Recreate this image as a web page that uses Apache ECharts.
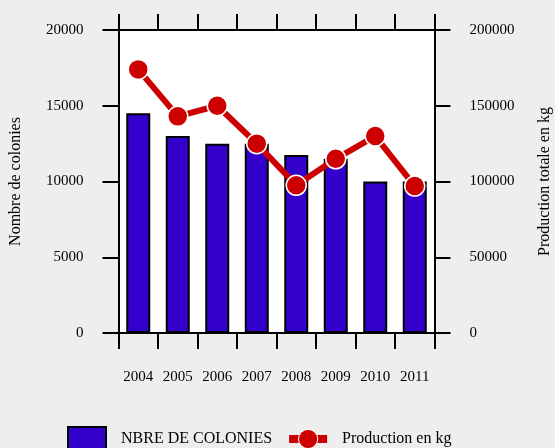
<!DOCTYPE html>
<html>
<head>
<meta charset="utf-8">
<script src="https://cdn.jsdelivr.net/npm/echarts@6/dist/echarts.min.js"></script>
<style>
html,body{margin:0;padding:0;background:#eeeeee;}
#chart{width:555px;height:448px;}
</style>
</head>
<body>
<div id="chart"></div>
<script>
const years = ['2004','2005','2006','2007','2008','2009','2010','2011'];
const colonies = [14500, 13000, 12500, 12500, 11750, 11500, 10000, 10000];
const production = [174000, 143000, 150000, 125000, 97500, 115000, 130000, 97000];
const leftTicks = {min: 0, max: 20000, interval: 5000};
const rightTicks = {min: 0, max: 200000, interval: 50000};

const FONT = '"Liberation Serif", "Times New Roman", serif';
const axisLine = {show: true, onZero: false, lineStyle: {color: '#000', width: 2}};
const axisTick = {show: true, inside: false, length: 16, interval: 0, lineStyle: {color: '#000', width: 2}};

const chart = echarts.init(document.getElementById('chart'), null, {renderer: 'canvas'});
chart.setOption({
  backgroundColor: '#eeeeee',
  animation: false,
  grid: {left: 118.5, right: 120.5, top: 30, bottom: 115, show: true, backgroundColor: '#ffffff', borderWidth: 0,
         containLabel: false, outerBoundsMode: 'none'},
  legend: {
    left: 67, top: 426, padding: 0, itemWidth: 38, itemHeight: 24, itemGap: 13,
    textStyle: {fontFamily: FONT, fontSize: 16, color: '#000', padding: [0,0,4,10]},
    data: [
      {name: 'NBRE DE COLONIES', icon: 'rect', itemStyle: {color: '#3300cc', borderColor: '#000', borderWidth: 2}},
      {name: 'Production en kg', lineStyle: {width: 8}, itemStyle: {color: '#cc0000', borderColor: '#ffffff', borderWidth: 1}}
    ]
  },
  xAxis: [
    {type: 'category', data: years, position: 'bottom', boundaryGap: true,
     axisLine: axisLine, axisTick: axisTick,
     axisLabel: {interval: 0, fontFamily: FONT, fontSize: 15, color: '#000', margin: 37}},
    {type: 'category', data: years, position: 'top', boundaryGap: true,
     axisLine: axisLine, axisTick: axisTick, axisLabel: {show: false}}
  ],
  yAxis: [
    {type: 'value', position: 'left', min: leftTicks.min, max: leftTicks.max, interval: leftTicks.interval,
     name: 'Nombre de colonies', nameLocation: 'middle', nameGap: 95,
     nameTextStyle: {fontFamily: FONT, fontSize: 16, color: '#000'},
     axisLine: axisLine, axisTick: axisTick, splitLine: {show: false},
     axisLabel: {fontFamily: FONT, fontSize: 15, color: '#000', margin: 35, formatter: v => String(v)}},
    {type: 'value', position: 'right', min: rightTicks.min, max: rightTicks.max, interval: rightTicks.interval,
     name: 'Production totale en kg', nameLocation: 'middle', nameGap: 102,
     nameTextStyle: {fontFamily: FONT, fontSize: 16, color: '#000'},
     axisLine: axisLine, axisTick: axisTick, splitLine: {show: false},
     axisLabel: {fontFamily: FONT, fontSize: 15, color: '#000', margin: 35, formatter: v => String(v)}}
  ],
  series: [
    {name: 'NBRE DE COLONIES', type: 'bar', xAxisIndex: 0, yAxisIndex: 0, data: colonies,
     barWidth: 24, itemStyle: {color: '#3300cc', borderColor: '#000', borderWidth: 2}},
    {name: 'Production en kg', type: 'line', xAxisIndex: 0, yAxisIndex: 1, data: production,
     symbol: 'circle', symbolSize: 20, z: 5,
     lineStyle: {color: '#cc0000', width: 6},
     itemStyle: {color: '#cc0000', borderColor: '#ffffff', borderWidth: 1.5}}
  ]
});
</script>
</body>
</html>
